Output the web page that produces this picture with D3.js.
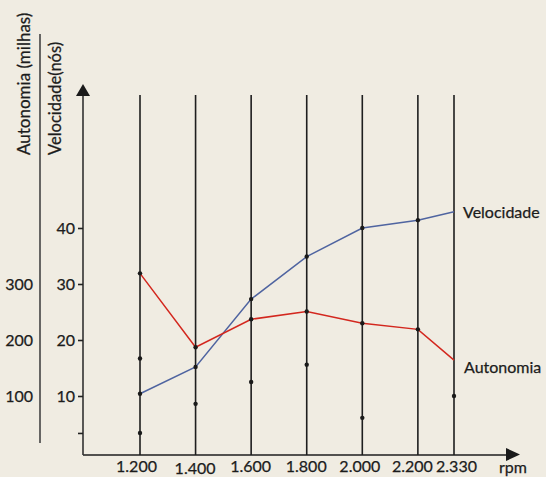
<!DOCTYPE html>
<html>
<head>
<meta charset="utf-8">
<script src="https://cdn.jsdelivr.net/npm/d3@7"></script>
<style>
  html, body { margin: 0; padding: 0; background: #f0ece2; }
  svg { display: block; }
  text { font-family: Lato, "Open Sans", sans-serif; fill: #1c1c1c; stroke: #1c1c1c; stroke-width: 0.25px; }
</style>
</head>
<body>
<svg id="chart" width="546" height="477"></svg>
<script>
// ---- data ----
const rpm = [1200, 1400, 1600, 1800, 2000, 2200, 2330];
const velocidade = [10.4, 15.2, 27.3, 34.9, 40.0, 41.4, 42.9];   // nós
const autonomia = [319, 187, 237, 251, 230, 219, 164];           // milhas
// loose points drawn on the rpm lines (in knot units)
const pontosRpm = [1200, 1200, 1400, 1600, 1800, 2000, 2330];
const pontosValor = [16.7, 3.4, 8.6, 12.5, 15.6, 6.1, 10.0];
const velTicks = [3.4, 10, 20, 30, 40];
const velTickLabels = ["", "10", "20", "30", "40"];
const autTicks = [100, 200, 300];
const autTickLabels = ["100", "200", "300"];

// ---- layout ----
const axisX = 83, axisY = 455;
const svg = d3.select("#chart");

const x = d3.scaleLinear().domain([1200, 2330]).range([140, 454]);
const yV = d3.scaleLinear().domain([0, 40]).range([452, 228]);
const yA = d3.scaleLinear().domain([0, 400]).range([452, 228]);

const fmt = d3.formatLocale({decimal: ",", thousands: ".", grouping: [3], currency: ["", ""]}).format(",");

// vertical rpm lines
svg.append("g").selectAll("line").data(rpm).join("line")
  .attr("x1", d => x(d)).attr("x2", d => x(d))
  .attr("y1", 95).attr("y2", axisY)
  .attr("stroke", "#1e1e1e").attr("stroke-width", 1.6);

// x axis
svg.append("line").attr("x1", axisX).attr("x2", 508).attr("y1", axisY).attr("y2", axisY)
  .attr("stroke", "#1e1e1e").attr("stroke-width", 1.6);
svg.append("path").attr("d", "M506,448 L520,454.5 L506,461 Z").attr("fill", "#1a1a1a");

const xAxis = d3.axisBottom(x).tickValues(rpm).tickSize(0).tickPadding(6).tickFormat(fmt);
const gx = svg.append("g").attr("transform", `translate(0,${axisY})`).call(xAxis);
gx.select(".domain").remove();
// small label nudges as in the original typesetting
const nudgeX = {1200: -4, 1400: -1, 1600: -1, 1800: -1, 2000: -3, 2200: -6, 2330: 2};
const nudgeY = {1400: 2};
gx.selectAll("text")
  .attr("dx", d => nudgeX[d] || 0)
  .attr("y", d => 6 + (nudgeY[d] || 0))
  .style("font-size", "16px").attr("fill", "#1c1c1c")
  .style("font-family", "Lato, 'Open Sans', sans-serif");
svg.append("text").attr("x", 513).attr("y", 473).attr("text-anchor", "middle")
  .style("font-size", "16px").text("rpm");

// velocity axis
svg.append("line").attr("x1", axisX).attr("x2", axisX).attr("y1", 95).attr("y2", axisY)
  .attr("stroke", "#333").attr("stroke-width", 1.6);
svg.append("path").attr("d", `M${axisX - 7},96 L${axisX},84 L${axisX + 7},96 Z`).attr("fill", "#1a1a1a");
const yAxis = d3.axisLeft(yV).tickValues(velTicks).tickSize(5).tickPadding(3)
  .tickFormat((d, i) => velTickLabels[i]);
const gy = svg.append("g").attr("transform", `translate(${axisX},0)`).call(yAxis);
gy.select(".domain").remove();
gy.selectAll("line").attr("stroke", "#222").attr("stroke-width", 1.6);
gy.selectAll("text").style("font-size", "16px").attr("fill", "#1c1c1c")
  .style("font-family", "Lato, 'Open Sans', sans-serif");

// autonomy axis (labels + bar)
svg.append("line").attr("x1", 40).attr("x2", 40).attr("y1", 34).attr("y2", 443)
  .attr("stroke", "#444").attr("stroke-width", 1.6);
svg.append("g").selectAll("text").data(autTicks).join("text")
  .attr("x", 33).attr("y", d => yA(d)).attr("dy", "0.36em")
  .attr("text-anchor", "end").style("font-size", "16px")
  .text((d, i) => autTickLabels[i]);

// axis titles
svg.append("text").attr("transform", "translate(30,155) rotate(-90)")
  .style("font-size", "17px").text("Autonomia (milhas)");
svg.append("text").attr("transform", "translate(61,155) rotate(-90)")
  .style("font-size", "16.5px").text("Velocidade(nós)");

// series lines
const lineV = d3.line().x((d, i) => x(rpm[i])).y(d => yV(d));
const lineA = d3.line().x((d, i) => x(rpm[i])).y(d => yA(d));
svg.append("path").attr("d", lineV(velocidade)).attr("fill", "none")
  .attr("stroke", "#4f64a0").attr("stroke-width", 1.5);
svg.append("path").attr("d", lineA(autonomia)).attr("fill", "none")
  .attr("stroke", "#d3271e").attr("stroke-width", 1.5);

// dots
const dotR = 2.2;
svg.append("g").selectAll("circle").data(velocidade.slice(0, -1)).join("circle")
  .attr("cx", (d, i) => x(rpm[i])).attr("cy", d => yV(d)).attr("r", dotR).attr("fill", "#1a1a1a");
svg.append("g").selectAll("circle").data(autonomia.slice(0, -1)).join("circle")
  .attr("cx", (d, i) => x(rpm[i])).attr("cy", d => yA(d)).attr("r", dotR).attr("fill", "#1a1a1a");
svg.append("g").selectAll("circle").data(pontosValor).join("circle")
  .attr("cx", (d, i) => x(pontosRpm[i])).attr("cy", d => yV(d)).attr("r", dotR).attr("fill", "#1a1a1a");

// series labels
const last = rpm.length - 1;
svg.append("text").attr("x", x(rpm[last]) + 9).attr("y", yV(velocidade[last]) + 6)
  .style("font-size", "16px").text("Velocidade");
svg.append("text").attr("x", x(rpm[last]) + 10).attr("y", yA(autonomia[last]) + 13)
  .style("font-size", "16px").text("Autonomia");
</script>
</body>
</html>
